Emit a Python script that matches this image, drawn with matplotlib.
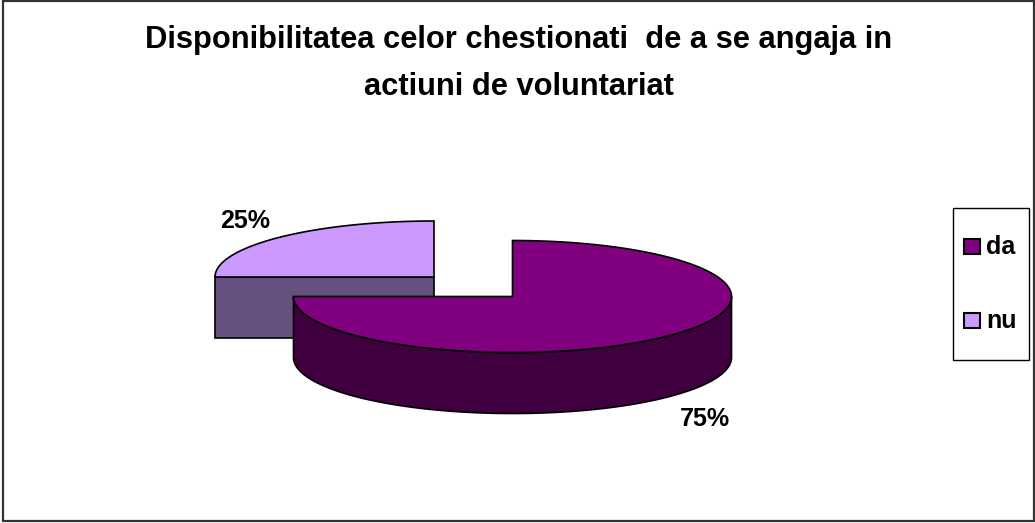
import numpy as np
import matplotlib
matplotlib.use("Agg")
import matplotlib.pyplot as plt
from matplotlib.patches import Polygon, Rectangle

title = "Disponibilitatea celor chestionati  de a se angaja in\nactiuni de voluntariat"
categories = ["da", "nu"]
values = [75, 25]
labels = ["75%", "25%"]
top_colors = ["#800080", "#CC99FF"]
side_colors = ["#400040", "#665080"]

plt.rcParams['font.family'] = ['Liberation Sans', 'DejaVu Sans']
fig = plt.figure(figsize=(10.35, 5.23), dpi=100)
ax = fig.add_axes([0, 0, 1, 1])
ax.set_xlim(0, 1035)
ax.set_ylim(523, 0)
ax.axis('off')

ax.add_patch(Rectangle((2.5, 0.5), 1031, 520.5, fc='white', ec='#333333', lw=1.6))

total = sum(values)
RX, RY, DEPTH = 219, 56, 61
centers = [(512.5, 296.5), (434, 277)]
LW = 1.2

def arc(c, a0, a1, dy=0, n=200):
    t = np.radians(np.linspace(a0, a1, n))
    return np.column_stack([c[0] + RX*np.cos(t), c[1] + RY*np.sin(t) + dy])

# angles in screen space (y down): start at top (-90 deg), clockwise
frac0 = values[0] / total * 360
a_main = (-90, -90 + frac0)
a_small = (-90 + frac0, 270)

# small slice: cut face first, then top
c = centers[1]
ax.add_patch(Polygon([(c[0] - RX, c[1]), c, (c[0], c[1] + DEPTH), (c[0] - RX, c[1] + DEPTH)],
                     fc=side_colors[1], ec='black', lw=LW, zorder=2))
ax.add_patch(Polygon(np.vstack([[c], arc(c, *a_small)]), fc=top_colors[1], ec='black', lw=LW, zorder=3))

# main slice: outer wall then top
c = centers[0]
front = arc(c, 0, 180)
wall = np.vstack([front, front[::-1] + [0, DEPTH]])
ax.add_patch(Polygon(wall, fc=side_colors[0], ec='black', lw=LW, zorder=4))
ax.add_patch(Polygon(np.vstack([[c], arc(c, *a_main)]), fc=top_colors[0], ec='black', lw=LW, zorder=5))

# text
ax.text(519, 63.5, title, ha='center', va='center', fontsize=22.2, fontweight='bold', linespacing=1.7)
ax.text(705, 419.5, labels[0], ha='center', va='center', fontsize=18, fontweight='bold')
ax.text(245, 220.5, labels[1], ha='center', va='center', fontsize=18, fontweight='bold')

# legend
ax.add_patch(Rectangle((952.5, 207.5), 76, 152, fc='white', ec='black', lw=1))
for y, name, col in zip([246, 320], categories, top_colors):
    ax.add_patch(Rectangle((963.5, y - 7.5), 16, 15, fc=col, ec='black', lw=1.5))
    ax.text(986, y + 1, name, ha='left', va='center', fontsize=18, fontweight='bold')

fig.savefig('out.png', dpi=100)
